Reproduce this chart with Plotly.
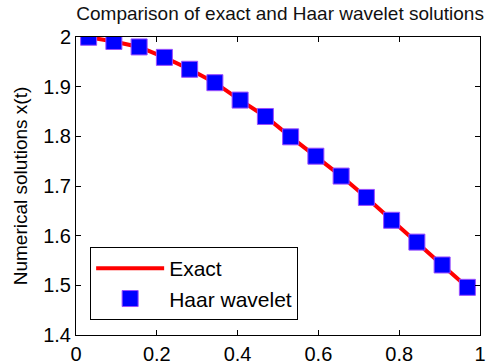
import plotly.graph_objects as go

t = [(2 * i - 1) / 32 for i in range(1, 17)]
exact = [1.9995, 1.991, 1.980, 1.959, 1.935, 1.908, 1.873, 1.840,
         1.799, 1.760, 1.720, 1.677, 1.631, 1.587, 1.541, 1.496]
haar = [1.9995, 1.991, 1.980, 1.959, 1.935, 1.908, 1.873, 1.840,
        1.799, 1.760, 1.720, 1.677, 1.631, 1.587, 1.541, 1.496]
x_ticks = [0, 0.2, 0.4, 0.6, 0.8, 1]
x_tick_text = ["0", "0.2", "0.4", "0.6", "0.8", "1"]
y_ticks = [1.4, 1.5, 1.6, 1.7, 1.8, 1.9, 2.0]
y_tick_text = ["1.4", "1.5", "1.6", "1.7", "1.8", "1.9", "2"]

FONT = "Liberation Sans, Arial, sans-serif"

fig = go.Figure()
fig.add_trace(go.Scatter(x=t, y=exact, mode="lines", name="Exact",
                         line=dict(color="#ff0000", width=4)))
fig.add_trace(go.Scatter(x=t, y=haar, mode="markers", name="Haar wavelet",
                         marker=dict(symbol="square", size=16, color="#0000ff",
                                     line=dict(color="#9a4dff", width=1))))

axis_common = dict(showline=True, linecolor="black", linewidth=1, mirror="ticks",
                   ticks="inside", ticklen=5, tickcolor="black", showgrid=False,
                   zeroline=False, automargin=False,
                   tickfont=dict(family=FONT, size=20, color="black"))

fig.update_layout(
    width=488, height=363,
    margin=dict(l=76, r=8, t=37, b=28),
    paper_bgcolor="white", plot_bgcolor="white",
    font=dict(family=FONT, color="black"),
    title=dict(text="Comparison of exact and Haar wavelet solutions",
               font=dict(family=FONT, size=19, color="#111111"),
               x=0.574, xanchor="center", yref="container", y=0.962, yanchor="middle"),
    xaxis=dict(range=[0, 1], tickvals=x_ticks, ticktext=x_tick_text,
               ticklabelstandoff=1, **axis_common),
    yaxis=dict(range=[1.4, 2.0], tickvals=y_ticks, ticktext=y_tick_text,
               title=dict(text="Numerical solutions x(t)", font=dict(family=FONT, size=19),
                          standoff=10),
               **axis_common),
    legend=dict(x=0.035, y=0.295, xanchor="left", yanchor="top",
                bordercolor="black", borderwidth=1, bgcolor="white",
                font=dict(family=FONT, size=21, color="black"), itemwidth=68,
                tracegroupgap=0),
    showlegend=True,
)

fig.write_html("out.html")
